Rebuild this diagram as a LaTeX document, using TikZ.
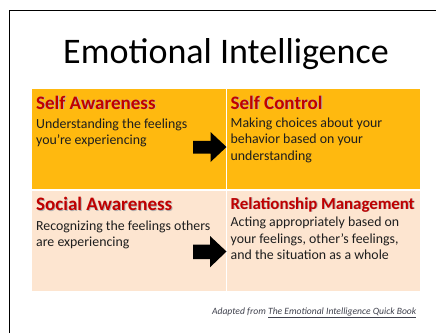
\documentclass[tikz,border=0pt]{standalone}
\usepackage{fontspec}
\setmainfont{Carlito}
\usetikzlibrary{calc}
\definecolor{gold}{HTML}{FFB90F}
\definecolor{peach}{HTML}{FDE5D0}
\definecolor{headred}{HTML}{C00000}
\definecolor{bodyink}{HTML}{1E1E1E}
\definecolor{noteink}{HTML}{40424E}
% heading text with a soft drop shadow
\newcommand{\shadowed}[1]{\makebox[0pt][l]{\hspace{0.9pt}\raisebox{-0.9pt}{\textcolor{black!30}{#1}}}#1}
\tikzset{
  cell/.style={anchor=north west, inner sep=0pt, draw=none},
  heading/.style={anchor=base west, inner sep=0pt, text=headred,
    font=\fontsize{19}{22}\selectfont\bfseries},
  % multi-line body: the base anchor sits on the last line
  body/.style={anchor=base west, inner sep=0pt, align=left, text=bodyink,
    font=\fontsize{13.85}{16.6}\selectfont},
  blockarrow/.style={fill=black, draw=none},
}
\begin{document}
\begin{tikzpicture}[x=1pt, y=-1pt]
  \useasboundingbox (0,0) rectangle (436,333);
  \fill[white] (0,0) rectangle (436,333);
  % slide frame
  \draw[line width=1.5pt] (9.5,333) -- (9.5,10.5) -- (436,10.5);

  \node[font=\fontsize{36}{40}\selectfont, anchor=base] (title) at (226,63) {Emotional Intelligence};

  % quadrants
  \node[cell, fill=gold, minimum width=194pt, minimum height=100pt] (sa) at (31.5,89) {};
  \node[cell, fill=gold, minimum width=193pt, minimum height=100pt] (sc) at (227,89) {};
  \node[cell, fill=peach, minimum width=194pt, minimum height=99.5pt] (soc) at (31.5,191) {};
  \node[cell, fill=peach, minimum width=193pt, minimum height=99.5pt] (rm) at (227,191) {};

  % texts
  \node[heading] (saH) at (36,109) {\shadowed{Self Awareness}};
  \node[body] (saB) at (36,144.6) {Understanding the feelings\\you’re experiencing};
  \node[heading] (scH) at (230.5,109) {\shadowed{Self Control}};
  \node[body] (scB) at (230.5,160.2) {Making choices about your\\behavior based on your\\understanding};
  \node[heading] (socH) at (36,210.5) {\shadowed{Social Awareness}};
  \node[body] (socB) at (36,246.6) {Recognizing the feelings others\\are experiencing};
  \node[heading, font=\fontsize{16.8}{20}\selectfont\bfseries] (rmH) at (230.5,209) {\shadowed{Relationship Management}};
  \node[body] (rmB) at (230.5,259.9) {Acting appropriately based on\\your feelings, other’s feelings,\\and the situation as a whole};

  % block arrows from left quadrants into right quadrants
  \fill[blockarrow] (193,140.8) -- (210.5,140.8) -- (210.5,132) -- (226.5,147)
    -- (210.5,162) -- (210.5,153.6) -- (193,153.6) -- cycle;
  \fill[blockarrow] (193,244.5) -- (210,244.5) -- (210,236) -- (226.5,251.5)
    -- (210,267.3) -- (210,259) -- (193,259) -- cycle;

  % source note
  \node[anchor=base east, inner sep=0pt, text=noteink,
    font=\fontsize{9.6}{11}\selectfont\itshape] (note) at (416.5,314)
    {Adapted from \underline{The Emotional Intelligence Quick Book}};
\end{tikzpicture}
\end{document}
